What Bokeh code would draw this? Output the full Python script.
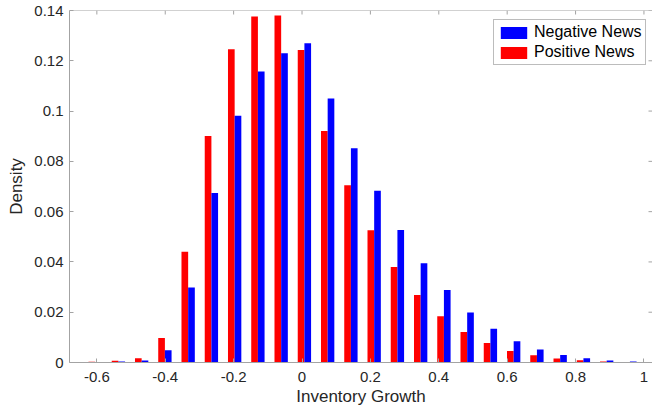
from bokeh.plotting import figure
from bokeh.models import ColumnDataSource, FixedTicker, Range1d, Legend, LegendItem, Span
from bokeh.embed import file_html
from bokeh.resources import INLINE
import numpy as np

# bin centres (Inventory Growth)
centers = [-0.605, -0.537, -0.469, -0.401, -0.333, -0.265, -0.197, -0.129,
           -0.061, 0.007, 0.075, 0.143, 0.211, 0.279, 0.347, 0.415,
           0.483, 0.551, 0.619, 0.687, 0.755, 0.823, 0.891, 0.959]
negative_news = [0.0002, 0.0004, 0.0008, 0.0049, 0.0298, 0.0674, 0.0981, 0.1157,
                 0.1230, 0.1270, 0.1050, 0.0852, 0.0683, 0.0527, 0.0395, 0.0288,
                 0.0199, 0.0134, 0.0085, 0.0052, 0.0030, 0.0017, 0.0008, 0.0004]
positive_news = [0.0003, 0.0007, 0.0017, 0.0097, 0.0440, 0.0901, 0.1246, 0.1376,
                 0.1380, 0.1243, 0.0921, 0.0705, 0.0526, 0.0380, 0.0268, 0.0184,
                 0.0121, 0.0078, 0.0046, 0.0029, 0.0016, 0.0009, 0.0004, 0.0001]

x_ticks = [-0.6, -0.4, -0.2, 0, 0.2, 0.4, 0.6, 0.8, 1]
x_labels = ["-0.6", "-0.4", "-0.2", "0", "0.2", "0.4", "0.6", "0.8", "1"]
y_ticks = [0, 0.02, 0.04, 0.06, 0.08, 0.1, 0.12, 0.14]
y_labels = ["0", "0.02", "0.04", "0.06", "0.08", "0.1", "0.12", "0.14"]

X0, X1 = -0.68, 1.025
Y0, Y1 = 0.0, 0.14

bar_w = 0.0195
c = np.array(centers)
src = ColumnDataSource(dict(
    xr=c - bar_w / 2, xb=c + bar_w / 2,
    neg=negative_news, pos=positive_news))

FONT = "Liberation Sans"
AX = "#a3a3a3"
TXT = "#262626"

p = figure(width=652, height=414, output_backend="svg", toolbar_location=None,
           x_range=Range1d(X0, X1), y_range=Range1d(Y0, Y1),
           min_border_left=69, min_border_right=0, min_border_top=10, min_border_bottom=52,
           x_axis_label="Inventory Growth", y_axis_label="Density")
p.outline_line_color = None
p.xgrid.visible = False
p.ygrid.visible = False
p.background_fill_color = "white"
p.border_fill_color = "white"

rr = p.vbar(x="xr", top="pos", width=bar_w, source=src, fill_color="#ff0000", line_color=None)
rb = p.vbar(x="xb", top="neg", width=bar_w, source=src, fill_color="#0000ff", line_color=None)

def style(ax, ticks, labels):
    ax.ticker = FixedTicker(ticks=ticks)
    ax.major_label_overrides = {t: l for t, l in zip(ticks, labels)}
    ax.minor_tick_line_color = None
    ax.major_tick_in = 4
    ax.major_tick_out = 0
    ax.major_tick_line_color = AX
    ax.axis_line_color = AX
    ax.axis_line_width = 1
    ax.major_label_text_font = FONT
    ax.major_label_text_color = TXT
    ax.major_label_text_font_size = "15px"
    ax.axis_label_text_font = FONT
    ax.axis_label_text_color = TXT
    ax.axis_label_text_font_size = "17px"
    ax.axis_label_text_font_style = "normal"

xa = p.xaxis[0]
style(xa, x_ticks, x_labels)
xa.major_label_standoff = 9
xa.axis_label_standoff = 2

ya = p.yaxis[0]
style(ya, y_ticks, y_labels)
ya.major_label_standoff = 6
ya.axis_label_standoff = 5

# box: top edge line with inward ticks, inward ticks on the right edge
p.add_layout(Span(location=Y1, dimension="width", line_color=AX, line_width=1))
tick_dy = 4 * (Y1 - Y0) / 352
tick_dx = 4 * (X1 - X0) / 583
p.segment(x0=x_ticks, x1=x_ticks, y0=[Y1] * len(x_ticks), y1=[Y1 - tick_dy] * len(x_ticks),
          line_color=AX, line_width=1)
p.segment(x0=[X1] * len(y_ticks), x1=[X1 - tick_dx] * len(y_ticks), y0=y_ticks, y1=y_ticks,
          line_color=AX, line_width=1)

legend = Legend(items=[LegendItem(label="Negative News", renderers=[rb]),
                       LegendItem(label="Positive News", renderers=[rr])],
                location=(424, 297))
legend.label_text_font = FONT
legend.label_text_font_size = "16px"
legend.label_text_color = "black"
legend.glyph_width = 33
legend.glyph_height = 15
legend.label_height = 15
legend.label_standoff = 4
legend.padding = 3
legend.spacing = 2
legend.margin = 0
legend.border_line_color = "#7a7a7a"
legend.border_line_width = 1
legend.background_fill_color = "white"
legend.background_fill_alpha = 1
p.add_layout(legend, "center")

open("out.html", "w").write(file_html(p, INLINE))
